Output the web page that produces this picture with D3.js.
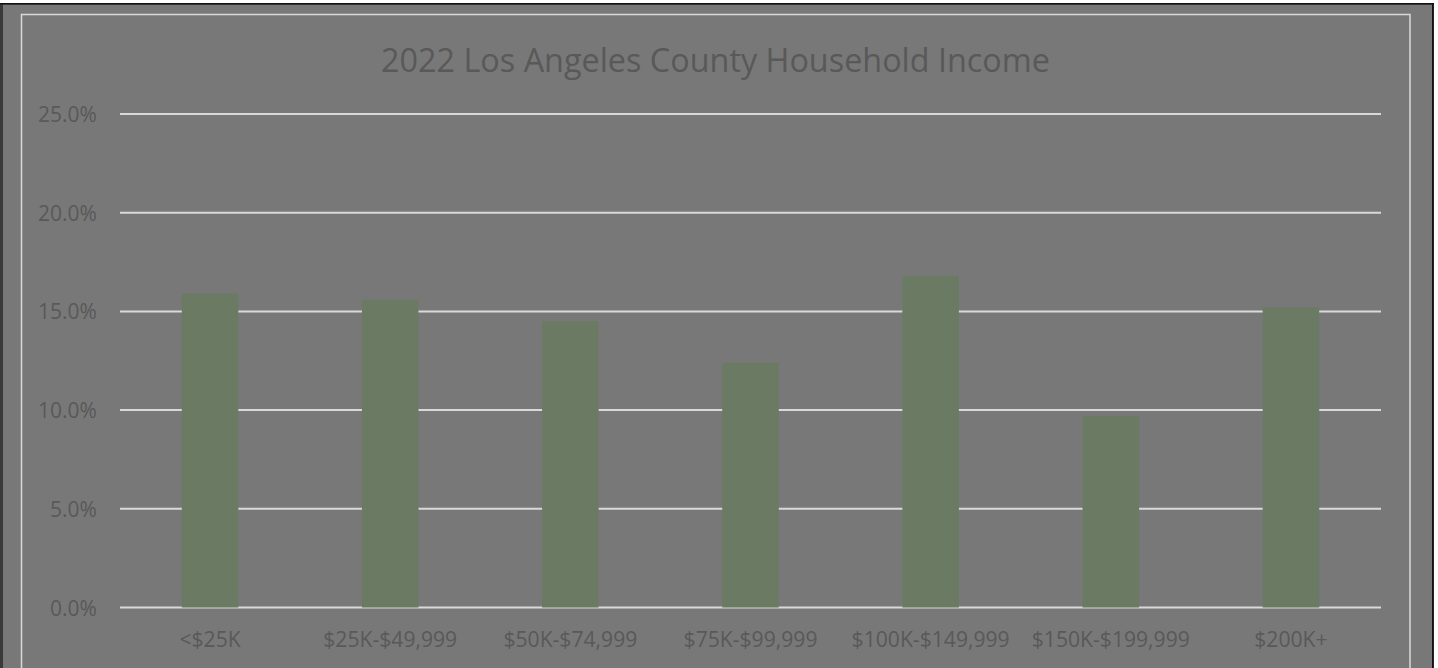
<!DOCTYPE html>
<html>
<head>
<meta charset="utf-8">
<script src="https://cdn.jsdelivr.net/npm/d3@7"></script>
<style>
  html, body { margin: 0; padding: 0; background: #ffffff; overflow: hidden; }
  svg { display: block; }
</style>
</head>
<body>
<svg id="chart" width="1438" height="668"></svg>
<script>
const title = "2022 Los Angeles County Household Income";
const categories = ["<$25K", "$25K-$49,999", "$50K-$74,999", "$75K-$99,999", "$100K-$149,999", "$150K-$199,999", "$200K+"];
const values = [15.9, 15.6, 14.5, 12.4, 16.8, 9.7, 15.2];
const yTicks = [0, 5, 10, 15, 20, 25];

const svg = d3.select("#chart");
const W = 1438, H = 668;

// outer frame
svg.append("rect").attr("x", 0).attr("y", 3).attr("width", 1434).attr("height", H).attr("fill", "#3a3a3a");
svg.append("rect").attr("x", 3).attr("y", 4.5).attr("width", 1429).attr("height", H).attr("fill", "#787878");
svg.append("line").attr("x1", 0).attr("x2", 1434).attr("y1", 3.75).attr("y2", 3.75).attr("stroke", "#111").attr("stroke-width", 1.5);
svg.append("line").attr("x1", 1432.75).attr("x2", 1432.75).attr("y1", 3).attr("y2", H).attr("stroke", "#111").attr("stroke-width", 1.5);

// inner light border
svg.append("rect").attr("x", 21.5).attr("y", 14.5).attr("width", 1388.5).attr("height", H)
  .attr("fill", "none").attr("stroke", "#d9d9d9").attr("stroke-width", 1.5);

const margin = { left: 120, right: 1381, top: 114, bottom: 607.5 };
const x = d3.scaleBand().domain(categories).range([margin.left, margin.right]).padding(0);
const y = d3.scaleLinear().domain([0, 25]).range([margin.bottom, margin.top]);

const font = "'Open Sans', Carlito, Calibri, sans-serif";
const textColor = "#595959";

// gridlines
svg.append("g").selectAll("line").data(yTicks).join("line")
  .attr("x1", margin.left).attr("x2", margin.right)
  .attr("y1", d => y(d)).attr("y2", d => y(d))
  .attr("stroke", "#d9d9d9").attr("stroke-width", 2);

// bars
const barFrac = 0.314;
svg.append("g").selectAll("rect").data(values).join("rect")
  .attr("x", (d, i) => x(categories[i]) + x.bandwidth() * (1 - barFrac) / 2)
  .attr("width", x.bandwidth() * barFrac)
  .attr("y", d => y(d))
  .attr("height", d => y(0) - y(d))
  .attr("fill", "#6b7b63");

// helper: measure width at a size
function measure(str, size) {
  const tmp = svg.append("text").attr("font-family", font).attr("font-size", size).text(str);
  const w = tmp.node().getComputedTextLength();
  tmp.remove();
  return w;
}

// y axis labels
const ySize = 16 * 59 / measure("25.0%", 16);
const yAxis = d3.axisLeft(y).tickValues(yTicks).tickFormat(d => d3.format(".1f")(d) + "%").tickSize(0).tickPadding(0);
const gy = svg.append("g").attr("transform", `translate(97,0)`).call(yAxis);
gy.select(".domain").remove();
gy.selectAll("text").attr("font-family", font).attr("font-size", ySize).attr("fill", textColor).attr("dy", "0.36em");

// x axis labels
const xSize = 16 * 134 / measure("$25K-$49,999", 16);
const xAxis = d3.axisBottom(x).tickSize(0).tickPadding(0);
const gx = svg.append("g").attr("transform", `translate(0,639.5)`).call(xAxis);
gx.select(".domain").remove();
gx.selectAll("text").attr("font-family", font).attr("font-size", xSize).attr("fill", textColor).attr("dy", "0.36em");

// title
const t = svg.append("text").attr("x", (381 + 1050) / 2).attr("y", 72)
  .attr("text-anchor", "middle").attr("font-family", font).attr("font-size", 28)
  .attr("fill", textColor).text(title);
const len = t.node().getComputedTextLength();
t.attr("font-size", 28 * 669 / len);
</script>
</body>
</html>
